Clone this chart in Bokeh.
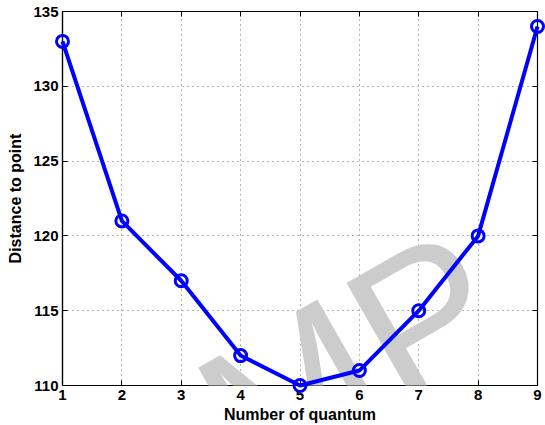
from bokeh.plotting import figure
from bokeh.models import LinearAxis, Label, Range1d, FixedTicker
from bokeh.embed import file_html
from bokeh.resources import INLINE

quanta = [1, 2, 3, 4, 5, 6, 7, 8, 9]
distance = [133, 121, 117, 112, 110, 111, 115, 120, 134]
x_ticks = [1, 2, 3, 4, 5, 6, 7, 8, 9]
y_ticks = [110, 115, 120, 125, 130, 135]

FONT = "Liberation Sans"

p = figure(width=545, height=425, output_backend="svg", toolbar_location=None,
           x_range=Range1d(1, 9), y_range=Range1d(110, 135),
           min_border_left=62, min_border_right=8, min_border_top=11, min_border_bottom=10)
p.background_fill_color = "white"
p.border_fill_color = "white"
p.outline_line_color = "black"
p.outline_line_width = 1.2

for ax in (p.xaxis[0], p.yaxis[0]):
    ax.major_tick_in = 5
    ax.major_tick_out = 0
    ax.minor_tick_in = 0
    ax.minor_tick_out = 0
    ax.axis_line_color = "black"
    ax.axis_line_width = 1.2
    ax.major_label_text_font = FONT
    ax.major_label_text_font_style = "bold"
    ax.major_label_text_font_size = "15px"
    ax.major_label_text_color = "black"
    ax.axis_label_text_font = FONT
    ax.axis_label_text_font_style = "bold"
    ax.axis_label_text_font_size = "16px"
    ax.axis_label_text_color = "black"

p.xaxis[0].ticker = FixedTicker(ticks=x_ticks)
p.yaxis[0].ticker = FixedTicker(ticks=y_ticks)
p.xaxis[0].axis_label = "Number of quantum"
p.yaxis[0].axis_label = "Distance to point"
p.xaxis[0].major_label_standoff = 4
p.xaxis[0].axis_label_standoff = 3
p.yaxis[0].major_label_standoff = 4
p.yaxis[0].axis_label_standoff = 6

top = LinearAxis(ticker=FixedTicker(ticks=x_ticks), major_label_text_font_size="0px",
                 major_tick_in=5, major_tick_out=0, minor_tick_in=0, minor_tick_out=0,
                 major_label_standoff=0, axis_line_color="black")
right = LinearAxis(ticker=FixedTicker(ticks=y_ticks), major_label_text_font_size="0px",
                   major_tick_in=5, major_tick_out=0, minor_tick_in=0, minor_tick_out=0,
                   major_label_standoff=0, axis_line_color="black")
p.add_layout(top, "above")
p.add_layout(right, "right")

p.xgrid.ticker = FixedTicker(ticks=x_ticks)
p.ygrid.ticker = FixedTicker(ticks=y_ticks)
for g in (p.xgrid[0], p.ygrid[0]):
    g.grid_line_color = "#444444"
    g.grid_line_dash = "1 4"
    g.grid_line_width = 1
    g.grid_line_alpha = 0.8

wm = Label(x=5.87, y=111.7, text="MP", text_font=FONT, text_font_size="205px",
           text_color="#cccccc", angle=0.52, text_align="center", text_baseline="middle",
           level="guide")
p.add_layout(wm)

p.line(quanta, distance, line_color="#0000ff", line_width=4, level="overlay")
p.scatter(quanta, distance, marker="circle", size=12, line_color="#0000ff",
          line_width=3, fill_color=None, level="overlay")

open("out.html", "w").write(file_html(p, INLINE))
